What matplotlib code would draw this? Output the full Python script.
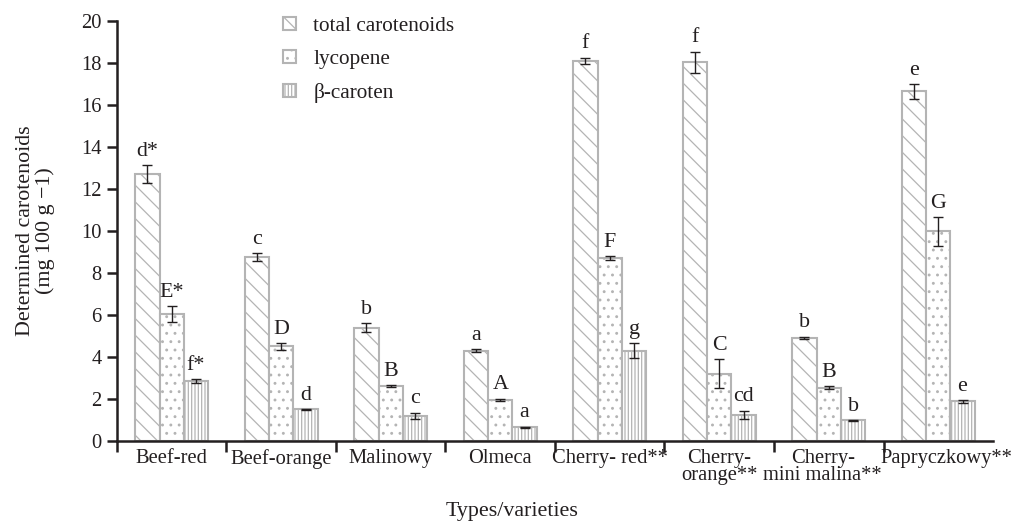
import matplotlib
matplotlib.use("Agg")
import matplotlib.pyplot as plt
import matplotlib.transforms as mtransforms
import numpy as np

# ------------------数据--------------------
varieties = ["Beef-red", "Beef-orange", "Malinowy", "Olmeca", "Cherry- red**",
             "Cherry-\norange**", "Cherry-\nmini malina**", "Papryczkowy**"]

total = [12.7, 8.75, 5.4, 4.3, 18.1, 18.03, 4.92, 16.65]
total_err = [0.43, 0.2, 0.2, 0.08, 0.15, 0.5, 0.04, 0.35]
total_lab = ["d*", "c", "b", "a", "f", "f", "b", "e"]

lycopene = [6.05, 4.5, 2.6, 1.95, 8.7, 3.2, 2.53, 9.98]
lycopene_err = [0.37, 0.15, 0.05, 0.06, 0.1, 0.7, 0.07, 0.68]
lycopene_lab = ["E*", "D", "B", "A", "F", "C", "B", "G"]

beta = [2.85, 1.5, 1.2, 0.65, 4.3, 1.25, 0.98, 1.88]
beta_err = [0.1, 0.02, 0.15, 0.02, 0.35, 0.18, 0.01, 0.05]
beta_lab = ["f*", "d", "c", "a", "g", "cd", "b", "e"]

series_names = ["total carotenoids", "lycopene", "\u03b2-caroten"]

# ------------------样式--------------------
dark = "#231f20"
gray = "#b4b4b4"
fs = 14.8
plt.rcParams["font.family"] = ["Liberation Serif", "DejaVu Serif"]
plt.rcParams["font.size"] = fs
plt.rcParams["hatch.color"] = gray
plt.rcParams["hatch.linewidth"] = 0.9

fig = plt.figure(figsize=(10.11, 5.29), dpi=100)
ax = fig.add_axes([0.1157, 0.1664, 0.8665, 0.7939])

x = np.arange(len(varieties))
w = 0.222
series = [(total, total_err, total_lab, "\\\\"),
          (lycopene, lycopene_err, lycopene_lab, ".."),
          (beta, beta_err, beta_lab, "|||||")]

for k, (vals, errs, labs, hatch) in enumerate(series):
    pos = x + (k - 1) * w
    ax.bar(pos, vals, width=w, color="white", edgecolor=gray, linewidth=1.5,
           hatch=hatch, label=series_names[k], zorder=2)
    ax.errorbar(pos, vals, yerr=errs, fmt="none", ecolor=dark, elinewidth=1.0,
                capsize=3.5, capthick=1.0, zorder=3)
    for p, v, e, t in zip(pos, vals, errs, labs):
        ax.text(p, v + e + 0.45, t, ha="center", va="baseline", color=dark, fontsize=fs + 1)

# ------------------坐标轴--------------------
ax.set_xlim(-0.5, 7.5)
ax.set_ylim(0, 20)
ax.set_yticks(np.arange(0, 21, 2))
ax.set_xticks(x)
ax.set_xticklabels(varieties, linespacing=0.8)
ax.set_xticks(np.arange(-0.5, 7, 1), minor=True)
ax.tick_params(axis="x", which="major", length=0, pad=6, colors=dark)
ax.tick_params(axis="x", which="minor", length=8, width=1.8, color=dark, direction="out")
ax.tick_params(axis="y", length=7, width=1.8, color=dark, labelcolor=dark, pad=4)
for s in ["top", "right"]:
    ax.spines[s].set_visible(False)
for s in ["left", "bottom"]:
    ax.spines[s].set_color(dark)
    ax.spines[s].set_linewidth(1.8)

# 最后两个标签稍微错开
tl = ax.get_xticklabels()
tl[6].set_transform(tl[6].get_transform() + mtransforms.ScaledTranslation(-6 / 100, 0, fig.dpi_scale_trans))
tl[7].set_transform(tl[7].get_transform() + mtransforms.ScaledTranslation(8 / 100, 0, fig.dpi_scale_trans))

ax.set_ylabel("Determined carotenoids\n(mg 100 g \u22121)", color=dark, fontsize=fs + 1,
              linespacing=1.0)
ax.yaxis.set_label_coords(-0.071, 0.5)
ax.set_xlabel("Types/varieties", color=dark, fontsize=fs + 1)
ax.xaxis.set_label_coords(0.451, -0.145)

ax.legend(loc="upper left", bbox_to_anchor=(0.19, 1.01), frameon=False,
          borderpad=0, borderaxespad=0, handlelength=0.6, handleheight=0.6,
          handletextpad=0.8, labelspacing=0.65, fontsize=fs + 0.5, labelcolor=dark)

fig.savefig("out.png", dpi=100)
